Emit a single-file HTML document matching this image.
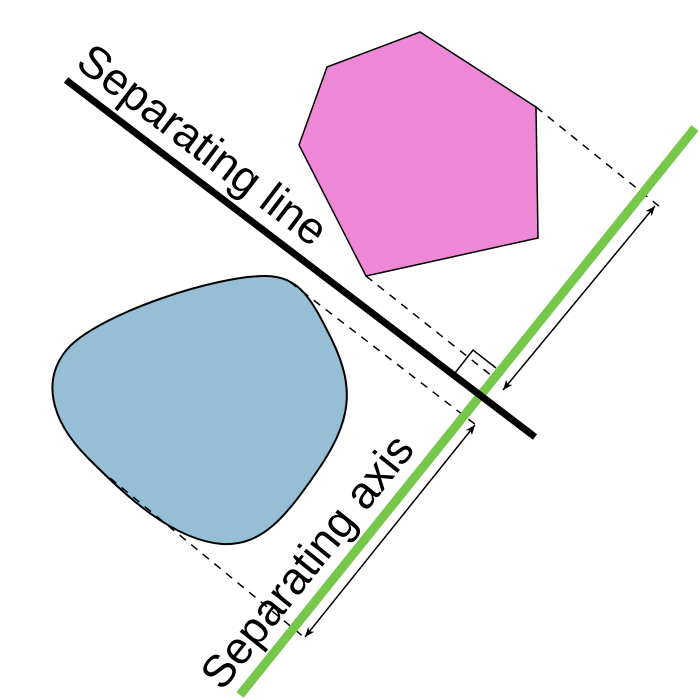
<!DOCTYPE html>
<html><head><meta charset="utf-8"><style>html,body{margin:0;padding:0;background:#fff}svg{display:block}</style></head>
<body>
<svg width="700" height="700" viewBox="0 0 700 700">
<defs>
<marker id="ah" viewBox="0 0 10 10" refX="10" refY="5" markerWidth="10" markerHeight="10" orient="auto-start-reverse" markerUnits="userSpaceOnUse"><path d="M0,1 L10,5 L0,9 L3,5 Z" fill="#000"/></marker>
</defs>
<path d="M265,276 C300,276 312,300 332,340 C355,388 352,420 318,470 C285,518 262,546 222,544 C172,540 125,495 88,458 C50,420 40,378 70,346 C105,312 215,276 265,276 Z" fill="#96bfd6" stroke="#000" stroke-width="2"/>
<polygon points="327,67 420,32 536,107 538,238 366,276 299,145" fill="#ee88d6" stroke="#000" stroke-width="1.5"/>
<g stroke="#000" stroke-width="1.5" stroke-dasharray="8,7" fill="none">
<line x1="536" y1="107" x2="660" y2="207"/>
<line x1="366" y1="276" x2="497" y2="380"/>
<line x1="290" y1="282" x2="480" y2="428"/>
<line x1="110" y1="478" x2="305" y2="638"/>
</g>
<line x1="240" y1="695" x2="695" y2="128" stroke="#77c74a" stroke-width="9"/>
<line x1="66" y1="80" x2="535" y2="437" stroke="#000" stroke-width="7"/>
<polyline points="455,373 473,350 496,368" fill="none" stroke="#000" stroke-width="1.5"/>
<line x1="655" y1="206" x2="503" y2="390" stroke="#000" stroke-width="1.5" marker-start="url(#ah)" marker-end="url(#ah)"/>
<line x1="475" y1="425" x2="305" y2="637" stroke="#000" stroke-width="1.5" marker-start="url(#ah)" marker-end="url(#ah)"/>
<text transform="translate(74,66) rotate(37.3)" font-family="Liberation Sans, sans-serif" font-size="45">Separating line</text>
<text transform="translate(222,692) rotate(-51.3)" font-family="Liberation Sans, sans-serif" font-size="45">Separating axis</text>
</svg>
</body></html>
